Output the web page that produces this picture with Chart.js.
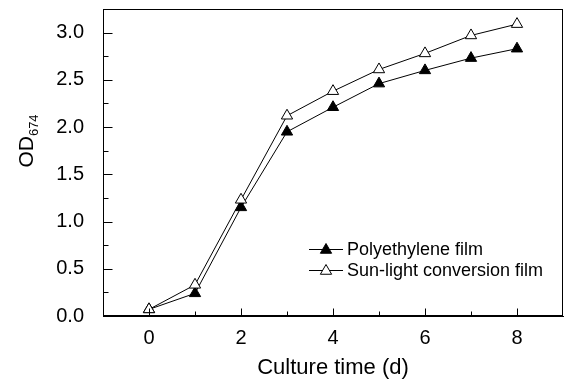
<!DOCTYPE html>
<html><head><meta charset="utf-8">
<script src="https://cdn.jsdelivr.net/npm/chart.js@4/dist/chart.umd.min.js"></script>
<style>html,body{margin:0;padding:0;background:#fff}#wrap{width:565px;height:383px}</style>
</head><body><div id="wrap"><canvas id="c" width="565" height="383"></canvas></div>
<script>
const days = [0, 1, 2, 3, 4, 5, 6, 7, 8];
const polyethylene = [0.07, 0.24, 1.15, 1.95, 2.21, 2.46, 2.60, 2.73, 2.83];
const sunLight = [0.07, 0.33, 1.23, 2.12, 2.38, 2.61, 2.78, 2.97, 3.09];
const xTickLabels = [0, 2, 4, 6, 8];
const yTickLabels = [0.0, 0.5, 1.0, 1.5, 2.0, 2.5, 3.0];
const seriesNames = ['Polyethylene film', 'Sun-light conversion film'];
const xTitle = 'Culture time (d)';
const yTitleMain = 'OD';
const yTitleSub = '674';

const FONT = '"Liberation Sans", Arial, Helvetica, sans-serif';

const framePlugin = {
  id: 'frame',
  afterDraw(chart) {
    const ctx = chart.ctx;
    const a = chart.chartArea;
    const xs = chart.scales.x, ys = chart.scales.y;
    ctx.save();
    ctx.strokeStyle = '#000';
    ctx.lineWidth = 1;
    const L = Math.round(a.left) + 0.5, R = Math.round(a.right) - 0.5;
    const T = Math.round(a.top) + 0.5, B = Math.round(a.bottom) - 0.5;
    ctx.strokeRect(L, T, R - L, B - T);
    // inward ticks
    ctx.beginPath();
    xs.ticks.forEach(t => {
      const v = t.value;
      if (v <= xs.min || v >= xs.max) return;
      const px = Math.round(xs.getPixelForValue(v)) + 0.5;
      const len = xTickLabels.includes(v) ? 7 : 4;
      ctx.moveTo(px, B); ctx.lineTo(px, B - len);
    });
    ys.ticks.forEach(t => {
      const v = t.value;
      if (v >= ys.max) return;
      const py = Math.round(ys.getPixelForValue(v)) + 0.5;
      const major = yTickLabels.some(l => Math.abs(l - v) < 1e-6);
      const len = major ? 9 : 5;
      ctx.moveTo(L, py); ctx.lineTo(L + len, py);
    });
    ctx.stroke();
    // x title
    ctx.fillStyle = '#000';
    ctx.font = '22px ' + FONT;
    ctx.textAlign = 'center';
    ctx.textBaseline = 'middle';
    ctx.fillText(xTitle, (a.left + a.right) / 2, 368);
    // y title with subscript
    ctx.save();
    ctx.translate(27, 141);
    ctx.rotate(-Math.PI / 2);
    ctx.font = '21px ' + FONT;
    const w1 = ctx.measureText(yTitleMain).width;
    ctx.font = '13px ' + FONT;
    const w2 = ctx.measureText(yTitleSub).width;
    const start = -(w1 + w2) / 2;
    ctx.textAlign = 'left';
    ctx.font = '21px ' + FONT;
    ctx.fillText(yTitleMain, start, 0);
    ctx.font = '13px ' + FONT;
    ctx.fillText(yTitleSub, start + w1, 7);
    ctx.restore();
    // legend
    const rows = [
      {name: seriesNames[0], fill: '#000', y: 249},
      {name: seriesNames[1], fill: '#fff', y: 270}
    ];
    ctx.font = '18px ' + FONT;
    ctx.textAlign = 'left';
    rows.forEach(r => {
      ctx.strokeStyle = '#000';
      ctx.lineWidth = 1;
      ctx.beginPath();
      ctx.moveTo(309, r.y + 0.5); ctx.lineTo(343, r.y + 0.5);
      ctx.stroke();
      ctx.fillStyle = r.fill;
      Chart.helpers.drawPoint(ctx, {pointStyle: 'triangle', radius: 6.5, borderWidth: 1, rotation: 0}, 326, r.y + 1);
      ctx.fillStyle = '#000';
      ctx.fillText(r.name, 347, r.y + 1);
    });
    ctx.restore();
  }
};

new Chart(document.getElementById('c'), {
  type: 'line',
  data: {
    datasets: [
      {
        label: seriesNames[0],
        data: days.map((d, i) => ({x: d, y: polyethylene[i]})),
        borderColor: '#000', borderWidth: 1,
        pointStyle: 'triangle', pointRadius: 6.5,
        pointBackgroundColor: '#000', pointBorderColor: '#000', pointBorderWidth: 1,
        tension: 0, order: 2
      },
      {
        label: seriesNames[1],
        data: days.map((d, i) => ({x: d, y: sunLight[i]})),
        borderColor: '#000', borderWidth: 1,
        pointStyle: 'triangle', pointRadius: 6.5,
        pointBackgroundColor: '#fff', pointBorderColor: '#000', pointBorderWidth: 1,
        tension: 0, order: 1
      }
    ]
  },
  options: {
    responsive: false,
    animation: false,
    events: [],
    layout: {autoPadding: false, padding: {top: 9, right: 2, left: 0, bottom: 0}},
    plugins: {legend: {display: false}, tooltip: {enabled: false}},
    scales: {
      x: {
        type: 'linear', min: -1, max: 9,
        grid: {display: false},
        border: {display: true, color: '#000', width: 1},
        ticks: {
          stepSize: 1, autoSkip: false, maxRotation: 0, padding: 2,
          color: '#000', font: {family: FONT, size: 20},
          callback: v => xTickLabels.includes(v) ? String(v) : ''
        },
        afterFit: s => { s.height = 67; s.paddingLeft = 0; s.paddingRight = 0; s.paddingTop = 0; s.paddingBottom = 0; }
      },
      y: {
        min: 0, max: 3.25,
        grid: {display: false},
        border: {display: true, color: '#000', width: 1},
        ticks: {
          stepSize: 0.25, autoSkip: false, padding: 11,
          color: '#000', font: {family: FONT, size: 20},
          callback: v => yTickLabels.some(l => Math.abs(l - v) < 1e-6) ? v.toFixed(1) : ''
        },
        afterFit: s => { s.width = 103; s.paddingLeft = 0; s.paddingRight = 0; s.paddingTop = 0; s.paddingBottom = 0; }
      }
    }
  },
  plugins: [framePlugin]
});
</script>
</body></html>
